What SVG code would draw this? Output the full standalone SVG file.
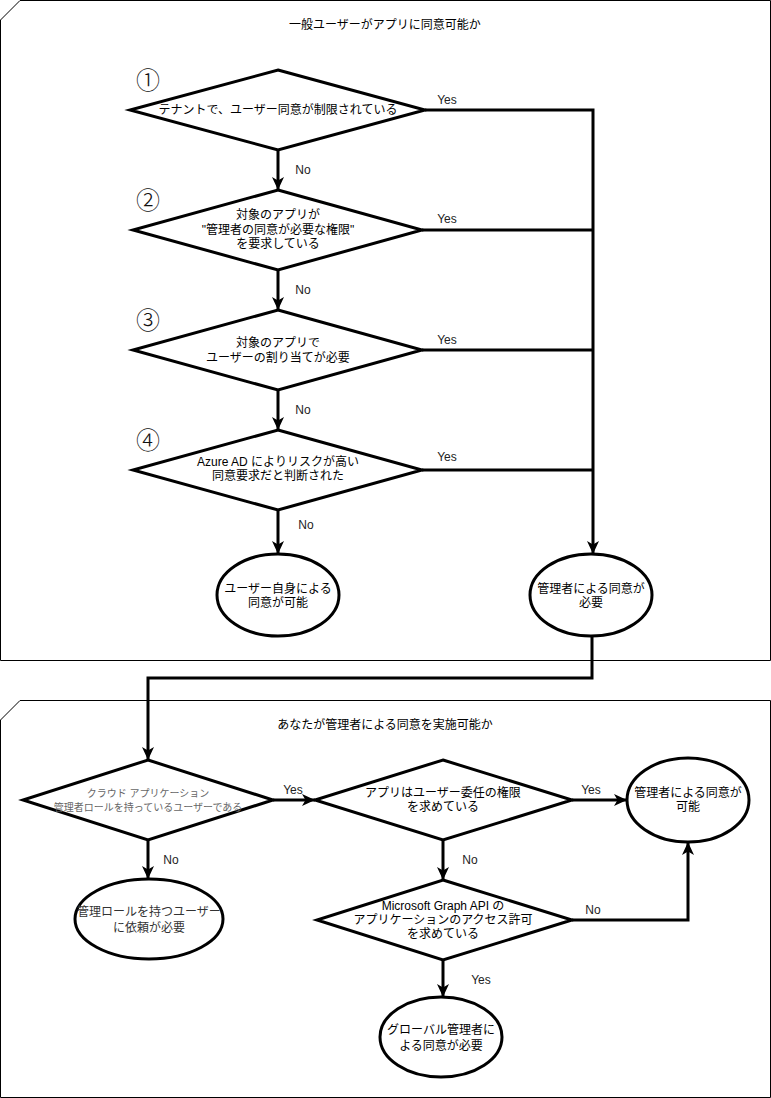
<svg xmlns="http://www.w3.org/2000/svg" width="771" height="1098" viewBox="0 0 771 1098">
<style>
text{font-family:"Liberation Sans","Noto Sans CJK JP",sans-serif;font-size:12px;fill:#000;text-anchor:middle}
.cont{fill:#fff;stroke:#000;stroke-width:1}
.shape{fill:#fff;stroke:#000;stroke-width:3}
.edge{fill:none;stroke:#000;stroke-width:3}
.num{font-family:"Noto Sans CJK JP",sans-serif;font-size:24px;font-weight:300;fill:#111}
.lbl{font-size:12px;fill:#222}
.gray{fill:#666;font-size:10px}
</style>
<defs>
<marker id="arr" markerUnits="userSpaceOnUse" markerWidth="16" markerHeight="14" viewBox="-1 -7 16 14" refX="13" refY="0" orient="auto">
<path d="M0,-6 L13,0 L0,6 L3.5,0 Z" fill="#000"/>
</marker>
</defs>
<g id="container1">
<path class="cont" d="M20,0.5 L770.5,0.5 L770.5,660.5 L0.5,660.5 L0.5,20 Z"/>
<text x="385" y="29">一般ユーザーがアプリに同意可能か</text>
</g>
<g id="container2">
<path class="cont" d="M20,700.5 L770.5,700.5 L770.5,1097.5 L0.5,1097.5 L0.5,720 Z"/>
<text x="385" y="729">あなたが管理者による同意を実施可能か</text>
</g>
<g id="connectors">
<path class="edge" d="M278,150 L278,190" marker-end="url(#arr)"/>
<path class="edge" d="M278,270 L278,310" marker-end="url(#arr)"/>
<path class="edge" d="M278,390 L278,430" marker-end="url(#arr)"/>
<path class="edge" d="M278,510 L278,554" marker-end="url(#arr)"/>
<path class="edge" d="M425,110 L593,110 L593,554" marker-end="url(#arr)"/>
<path class="edge" d="M422,230 L593,230"/>
<path class="edge" d="M422,350 L593,350"/>
<path class="edge" d="M422,470 L593,470"/>
<path class="edge" d="M592,637 L592,678 L148,678 L148,760" marker-end="url(#arr)"/>
<path class="edge" d="M273,800 L315,800" marker-end="url(#arr)"/>
<path class="edge" d="M572,800 L627,800" marker-end="url(#arr)"/>
<path class="edge" d="M148,840 L148,879" marker-end="url(#arr)"/>
<path class="edge" d="M443,840 L443,880" marker-end="url(#arr)"/>
<path class="edge" d="M572,920 L688,920 L688,842" marker-end="url(#arr)"/>
<path class="edge" d="M443,960 L443,997" marker-end="url(#arr)"/>
<text class="lbl" x="447" y="104">Yes</text>
<text class="lbl" x="447" y="223">Yes</text>
<text class="lbl" x="447" y="344">Yes</text>
<text class="lbl" x="447" y="461">Yes</text>
<text class="lbl" x="303" y="174">No</text>
<text class="lbl" x="303" y="294">No</text>
<text class="lbl" x="303" y="414">No</text>
<text class="lbl" x="306" y="529">No</text>
<text class="lbl" x="293" y="794">Yes</text>
<text class="lbl" x="591" y="794">Yes</text>
<text class="lbl" x="171" y="864">No</text>
<text class="lbl" x="470" y="864">No</text>
<text class="lbl" x="593" y="914">No</text>
<text class="lbl" x="481" y="984">Yes</text>
</g>
<g id="d1">
<polygon class="shape" points="278,70 425,110 278,150 130,110"/>
<text class="num" x="148" y="89">①</text>
<text x="278" y="114">テナントで、ユーザー同意が制限されている</text>
</g>
<g id="d2">
<polygon class="shape" points="278,190 422,230 278,270 133,230"/>
<text class="num" x="148" y="209">②</text>
<text x="278" y="219">対象のアプリが</text>
<text x="278" y="234">"管理者の同意が必要な権限"</text>
<text x="278" y="248">を要求している</text>
</g>
<g id="d3">
<polygon class="shape" points="278,310 422,350 278,390 133,350"/>
<text class="num" x="148" y="329">③</text>
<text x="278" y="347">対象のアプリで</text>
<text x="278" y="362">ユーザーの割り当てが必要</text>
</g>
<g id="d4">
<polygon class="shape" points="278,430 422,470 278,510 133,470"/>
<text class="num" x="148" y="449">④</text>
<text x="278" y="466">Azure AD によりリスクが高い</text>
<text x="278" y="480">同意要求だと判断された</text>
</g>
<g id="e1">
<ellipse class="shape" cx="278" cy="595" rx="61" ry="41"/>
<text x="278" y="593">ユーザー自身による</text>
<text x="278" y="607">同意が可能</text>
</g>
<g id="e2">
<ellipse class="shape" cx="591" cy="595" rx="61" ry="41"/>
<text x="591" y="593">管理者による同意が</text>
<text x="591" y="607">必要</text>
</g>
<g id="b1">
<polygon class="shape" points="148,760 273,800 148,840 23,800"/>
<text class="gray" x="148" y="797">クラウド アプリケーション</text>
<text class="gray" x="148" y="811">管理者ロールを持っているユーザーである</text>
</g>
<g id="b2">
<polygon class="shape" points="443,760 572,800 443,840 315,800"/>
<text x="443" y="797">アプリはユーザー委任の権限</text>
<text x="443" y="811">を求めている</text>
</g>
<g id="b3">
<polygon class="shape" points="443,880 572,920 443,960 317,920"/>
<text x="443" y="910">Microsoft Graph API の</text>
<text x="443" y="924">アプリケーションのアクセス許可</text>
<text x="443" y="938">を求めている</text>
</g>
<g id="eb1">
<ellipse class="shape" cx="149" cy="919" rx="74" ry="40"/>
<text x="149" y="916" style="fill:#333">管理ロールを持つユーザー</text>
<text x="149" y="932" style="fill:#333">に依頼が必要</text>
</g>
<g id="eb2">
<ellipse class="shape" cx="688" cy="800" rx="61" ry="42"/>
<text x="688" y="797">管理者による同意が</text>
<text x="688" y="811">可能</text>
</g>
<g id="eb3">
<ellipse class="shape" cx="441" cy="1037" rx="61" ry="40"/>
<text x="441" y="1034">グローバル管理者に</text>
<text x="441" y="1050">よる同意が必要</text>
</g>
</svg>
